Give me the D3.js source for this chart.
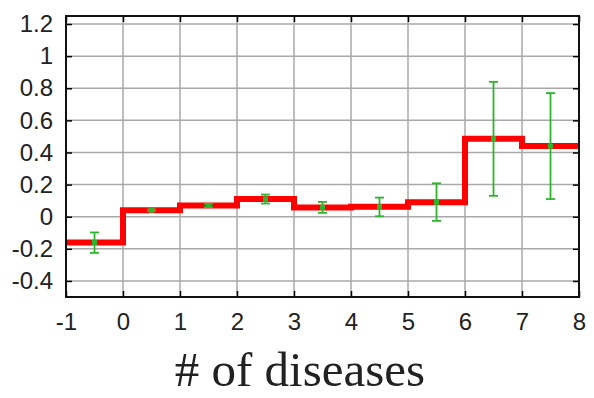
<!DOCTYPE html>
<html>
<head>
<meta charset="utf-8">
<script src="https://cdn.jsdelivr.net/npm/d3@7"></script>
<style>
  html, body { margin: 0; padding: 0; background: #fff; }
  svg { display: block; }
</style>
</head>
<body>
<svg id="chart" width="594" height="398"></svg>
<script>
// Number of diseases: bins from -1 to 8, one step value per bin
const binStarts = [-1, 0, 1, 2, 3, 4, 5, 6, 7];
const stepValues = [-0.16, 0.04, 0.07, 0.11, 0.057, 0.062, 0.09, 0.486, 0.44];
const errLow = [-0.225, 0.035, 0.06, 0.082, 0.024, 0.003, -0.026, 0.13, 0.11];
const errHigh = [-0.098, 0.045, 0.08, 0.138, 0.092, 0.119, 0.208, 0.84, 0.77];
const xTicks = [-1, 0, 1, 2, 3, 4, 5, 6, 7, 8];
const yTicks = [-0.4, -0.2, 0, 0.2, 0.4, 0.6, 0.8, 1, 1.2];
const xTitle = "# of diseases";

const svg = d3.select("#chart");
const m = { left: 66, right: 579, top: 16, bottom: 297 };

const x = d3.scaleLinear().domain([-1, 8]).range([m.left, m.right]);
const y = d3.scaleLinear().domain([-0.5, 1.25]).range([m.bottom, m.top]);

// plain hyphen for negatives
const fmt = d => String(+d.toFixed(1));

// grid
const grid = svg.append("g").attr("stroke", "#a8a8a8").attr("stroke-width", 1.5);
grid.selectAll("line.v").data(xTicks.slice(1, -1)).join("line")
  .attr("x1", d => x(d)).attr("x2", d => x(d))
  .attr("y1", m.top).attr("y2", m.bottom);
grid.selectAll("line.h").data(yTicks).join("line")
  .attr("y1", d => y(d)).attr("y2", d => y(d))
  .attr("x1", m.left).attr("x2", m.right);

// axes with inward ticks on all four sides
const tickLen = 6;
const axB = d3.axisBottom(x).tickValues(xTicks).tickSize(-tickLen).tickFormat(fmt).tickPadding(16);
const axT = d3.axisTop(x).tickValues(xTicks).tickSize(-tickLen).tickFormat("");
const axL = d3.axisLeft(y).tickValues(yTicks).tickSize(-tickLen).tickFormat(fmt).tickPadding(13);
const axR = d3.axisRight(y).tickValues(yTicks).tickSize(-tickLen).tickFormat("");

function style(g) {
  g.select(".domain").remove();
  g.selectAll(".tick line").attr("stroke", "#000").attr("stroke-width", 1.5);
  g.selectAll(".tick text").attr("fill", "#222")
    .style("font-family", "'Liberation Sans', Arial, sans-serif").style("font-size", "24px");
}
svg.append("g").attr("transform", `translate(0,${m.bottom})`).call(axB).call(style);
svg.append("g").attr("transform", `translate(0,${m.top})`).call(axT).call(style);
svg.append("g").attr("transform", `translate(${m.left},0)`).call(axL).call(style);
svg.append("g").attr("transform", `translate(${m.right},0)`).call(axR).call(style);

// step line
const pts = binStarts.map((b, i) => [b, stepValues[i]]);
pts.push([8, stepValues[stepValues.length - 1]]);
svg.append("path")
  .datum(pts)
  .attr("fill", "none")
  .attr("stroke", "#ff0000")
  .attr("stroke-width", 6)
  .attr("d", d3.line().x(d => x(d[0])).y(d => y(d[1])).curve(d3.curveStepAfter));

// error bars at bin centres
const green = "#2db52d";
const eb = svg.append("g").attr("stroke", green).attr("stroke-width", 1.8);
binStarts.forEach((b, i) => {
  const cx = x(b + 0.5);
  eb.append("line").attr("x1", cx).attr("x2", cx).attr("y1", y(errLow[i])).attr("y2", y(errHigh[i]));
  eb.append("line").attr("x1", cx - 4.5).attr("x2", cx + 4.5).attr("y1", y(errLow[i])).attr("y2", y(errLow[i]));
  eb.append("line").attr("x1", cx - 4.5).attr("x2", cx + 4.5).attr("y1", y(errHigh[i])).attr("y2", y(errHigh[i]));
  svg.append("rect").attr("x", cx - 2.5).attr("y", y(stepValues[i]) - 2.5)
    .attr("width", 5).attr("height", 5).attr("fill", green);
});

// frame
svg.append("rect")
  .attr("x", m.left).attr("y", m.top)
  .attr("width", m.right - m.left).attr("height", m.bottom - m.top)
  .attr("fill", "none").attr("stroke", "#111").attr("stroke-width", 2);

// axis title
svg.append("text")
  .attr("x", 300).attr("y", 386)
  .attr("text-anchor", "middle")
  .style("font-family", "'Liberation Serif', 'DejaVu Serif', serif")
  .style("font-size", "49px")
  .attr("fill", "#222")
  .text(xTitle);
</script>
</body>
</html>
